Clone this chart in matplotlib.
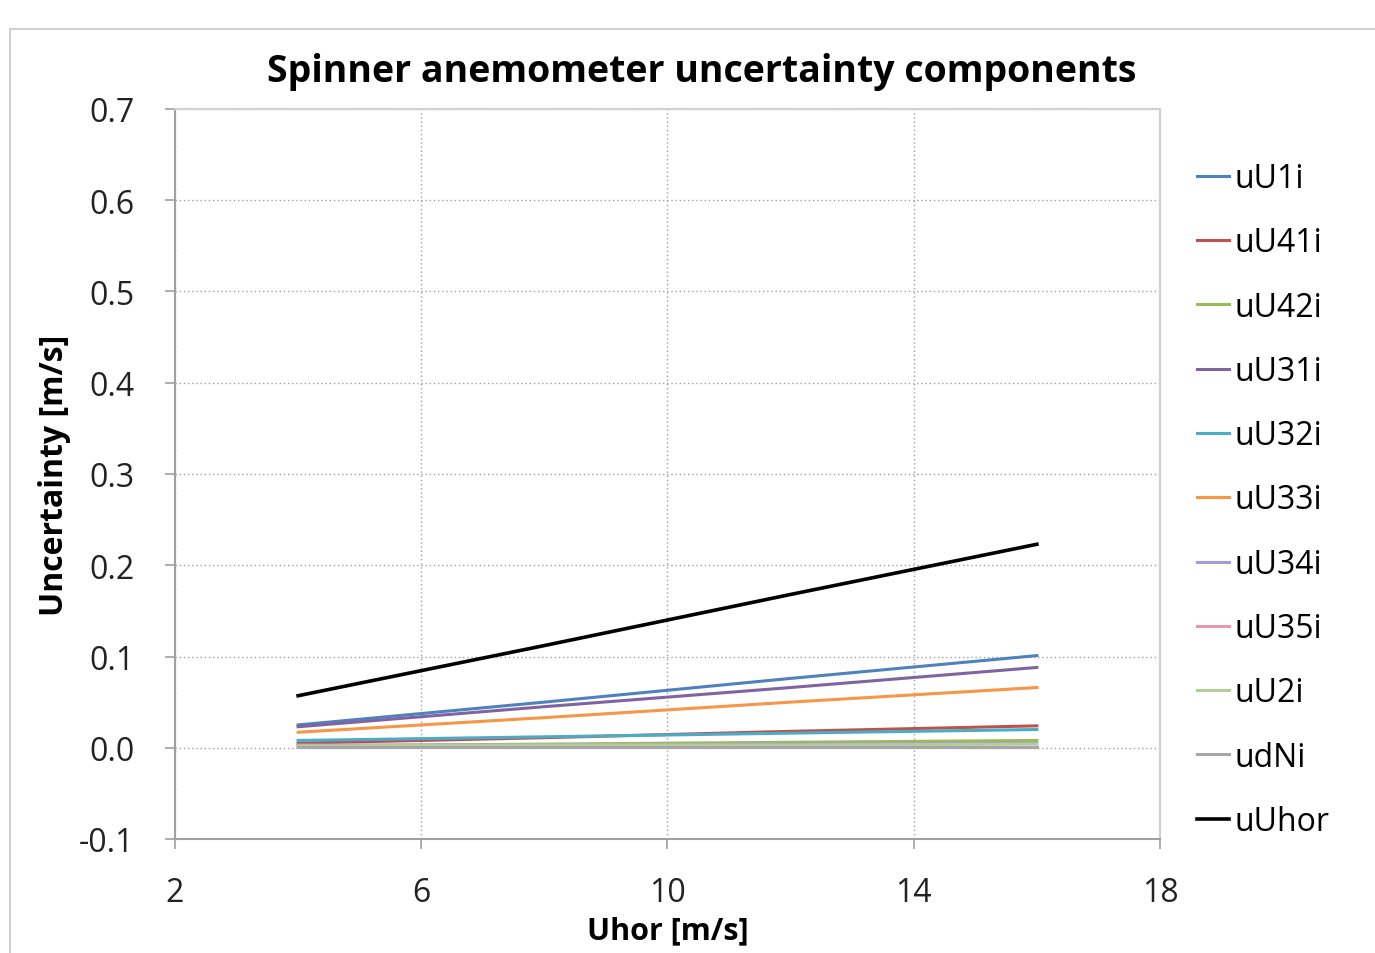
import matplotlib.pyplot as plt
import numpy as np
from matplotlib.patches import Rectangle

# wind speed bins [m/s]
uhor = [4, 8, 12, 16]

# uncertainty components [m/s]
uU1i = [0.025, 0.050, 0.076, 0.101]
uU41i = [0.005, 0.011, 0.018, 0.024]
uU42i = [0.002, 0.004, 0.006, 0.008]
uU31i = [0.023, 0.045, 0.066, 0.088]
uU32i = [0.008, 0.012, 0.016, 0.020]
uU33i = [0.017, 0.033, 0.050, 0.066]
uU34i = [0.003, 0.003, 0.004, 0.005]
uU35i = [0.001, 0.001, 0.001, 0.001]
uU2i = [0.002, 0.003, 0.003, 0.004]
udNi = [0.001, 0.001, 0.001, 0.001]
uUhor = [0.057, 0.112, 0.168, 0.223]

labels = ['uU1i', 'uU41i', 'uU42i', 'uU31i', 'uU32i', 'uU33i',
          'uU34i', 'uU35i', 'uU2i', 'udNi', 'uUhor']
series = [uU1i, uU41i, uU42i, uU31i, uU32i, uU33i,
          uU34i, uU35i, uU2i, udNi, uUhor]
colors = ['#4F81BD', '#C0504D', '#9BBB59', '#8064A2', '#4BACC6', '#F79646',
          '#A59BD8', '#E59AAE', '#B5CC9A', '#A6A6A6', '#000000']
widths = [2.2] * 10 + [2.6]

plt.rcParams['font.family'] = ['Open Sans', 'DejaVu Sans']

fig = plt.figure(figsize=(13.75, 9.54), dpi=100)
# chart frame
fig.patches.append(Rectangle((10 / 1375, -0.05), 1.0, 1 - 30 / 954 + 0.05,
                             transform=fig.transFigure, fill=False,
                             edgecolor='#C8C8C8', linewidth=1.2))

ax = fig.add_axes([175 / 1375, 1 - 840 / 954, (1160 - 175) / 1375, (840 - 110) / 954])

for y, lab, c, w in zip(series, labels, colors, widths):
    ax.plot(uhor, y, color=c, linewidth=w, label=lab)

ax.set_xlim(2, 18)
ax.set_ylim(-0.1, 0.7)
ax.set_xticks([2, 6, 10, 14, 18])
ax.set_yticks(np.arange(-0.1, 0.71, 0.1))
ax.set_yticklabels(['%.1f' % v for v in np.arange(-0.1, 0.71, 0.1)])
ax.grid(True, linestyle=(0, (1, 2)), color='#A0A0A0', linewidth=1.0)
for s in ax.spines.values():
    s.set_color('#D0D0D0')
    s.set_linewidth(1.5)
ax.spines['left'].set_color('#A0A0A0')
ax.spines['bottom'].set_color('#A0A0A0')
ax.tick_params(axis='both', labelsize=23, colors='#A0A0A0', labelcolor='#222222',
               length=7, width=1.2)
ax.tick_params(axis='y', pad=22)
ax.tick_params(axis='x', pad=20)

ax.set_title('Spinner anemometer uncertainty components', fontsize=27,
             fontweight='bold', pad=20, x=0.535)
ax.set_xlabel('Uhor [m/s]', fontsize=22, fontweight='bold', labelpad=4)
ax.set_ylabel('Uncertainty [m/s]', fontsize=23, fontweight='bold', labelpad=6)

ax.legend(loc='upper left', bbox_to_anchor=(1.025, 0.945), frameon=False,
          fontsize=23, handlelength=1.0, handletextpad=0.15, labelspacing=0.98,
          borderaxespad=0)

fig.savefig('out.png', dpi=100, facecolor='white')
